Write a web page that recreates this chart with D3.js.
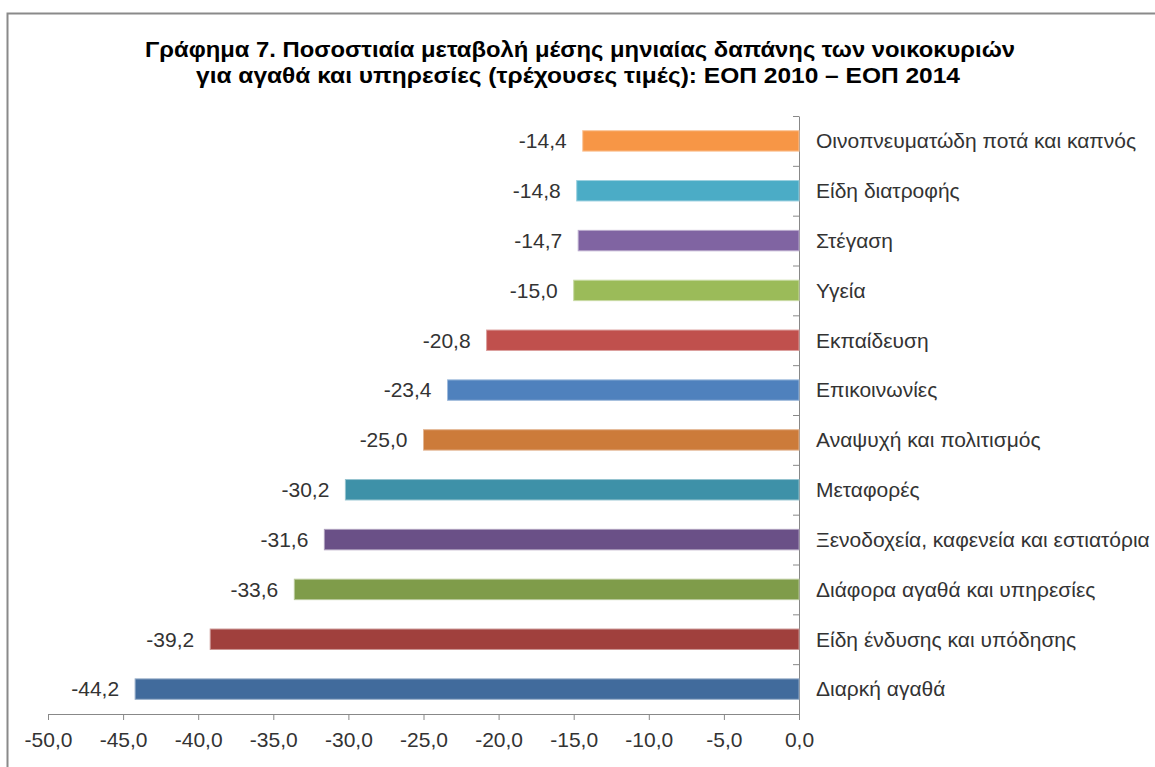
<!DOCTYPE html>
<meta charset="utf-8">
<style>
  body { margin: 0; background: #fff; }
  svg { display: block; }
  .tick text { font-family: "Liberation Sans", Arial, sans-serif; }
</style>
<script src="https://d3js.org/d3.v7.min.js"></script>
<div id="chart"></div>
<script>
  // data, top to bottom as in the chart
  var categories = [
    "Οινοπνευματώδη ποτά και καπνός",
    "Είδη διατροφής",
    "Στέγαση",
    "Υγεία",
    "Εκπαίδευση",
    "Επικοινωνίες",
    "Αναψυχή και πολιτισμός",
    "Μεταφορές",
    "Ξενοδοχεία, καφενεία και εστιατόρια",
    "Διάφορα αγαθά και υπηρεσίες",
    "Είδη ένδυσης και υπόδησης",
    "Διαρκή αγαθά"
  ];
  var values = [-14.4, -14.8, -14.7, -15.0, -20.8, -23.4, -25.0, -30.2, -31.6, -33.6, -39.2, -44.2];
  var colors = ["#F79646", "#4BACC6", "#8064A2", "#9BBB59", "#C0504D", "#4F81BD",
                "#CC7B3A", "#3E91A8", "#6A5087", "#7F9C4A", "#A0403D", "#416B9C"];
  var xTicks = [-50, -45, -40, -35, -30, -25, -20, -15, -10, -5, 0];
  var titleLines = [
    "Γράφημα 7. Ποσοστιαία μεταβολή μέσης μηνιαίας δαπάνης των νοικοκυριών",
    "για αγαθά και υπηρεσίες (τρέχουσες τιμές): ΕΟΠ 2010 – ΕΟΠ 2014"
  ];

  var W = 1155, H = 767;
  var plot = { left: 48, right: 799, top: 116, bottom: 714 };
  var fmt = function (v) { return d3.format(".1f")(v).replace(".", ",").replace("−", "-"); };

  var svg = d3.select("#chart").append("svg")
    .attr("width", W)
    .attr("height", H);

  // chart area frame (runs off the right and bottom edge)
  svg.append("rect")
    .attr("x", 7.5).attr("y", 13.5)
    .attr("width", W + 20).attr("height", H + 20)
    .attr("fill", "#fff")
    .attr("stroke", "#8a8a8a")
    .attr("stroke-width", 2);

  // title
  var titleWidths = [870, 764];
  svg.selectAll(".title")
    .data(titleLines)
    .enter().append("text")
    .attr("class", "title")
    .attr("x", function (d, i) { return i == 0 ? 580 : 578; })
    .attr("y", function (d, i) { return 57 + i * 26; })
    .attr("text-anchor", "middle")
    .attr("textLength", function (d, i) { return titleWidths[i]; })
    .attr("lengthAdjust", "spacingAndGlyphs")
    .style("font-family", "'Liberation Sans Narrow', 'Arial Narrow', 'Liberation Sans', sans-serif")
    .style("font-weight", "bold")
    .style("font-size", "22px")
    .attr("fill", "#000")
    .text(function (d) { return d; });

  var x = d3.scaleLinear()
    .domain([-50, 0])
    .range([plot.left, plot.right]);

  var y = d3.scaleBand()
    .domain(categories)
    .range([plot.top, plot.bottom])
    .paddingInner(0.59)
    .paddingOuter(0.295);

  // x axis
  var xAxis = svg.append("g")
    .attr("transform", "translate(0," + plot.bottom + ")")
    .call(d3.axisBottom(x)
      .tickValues(xTicks)
      .tickSize(6)
      .tickSizeOuter(6)
      .tickFormat(fmt));
  xAxis.select(".domain").attr("stroke", "#888");
  xAxis.selectAll(".tick line").attr("stroke", "#888");
  xAxis.selectAll(".tick text")
    .attr("fill", "#333")
    .attr("y", 18)
    .style("font-size", "21px");

  // y axis: line at zero with ticks on category boundaries
  var yb = d3.scaleLinear()
    .domain([0, categories.length])
    .range([plot.top, plot.bottom]);
  var yAxis = svg.append("g")
    .attr("transform", "translate(" + x(0) + ",0)")
    .call(d3.axisLeft(yb)
      .tickValues(d3.range(categories.length + 1))
      .tickSize(6)
      .tickSizeOuter(0)
      .tickFormat(""));
  yAxis.select(".domain").attr("stroke", "#888");
  yAxis.selectAll(".tick line").attr("stroke", "#888");

  var data = categories.map(function (c, i) {
    return { cat: c, value: values[i], color: colors[i] };
  });

  // bars
  svg.selectAll(".bar")
    .data(data)
    .enter().append("rect")
    .attr("class", "bar")
    .attr("x", function (d) { return x(d.value); })
    .attr("y", function (d) { return y(d.cat); })
    .attr("width", function (d) { return x(0) - x(d.value); })
    .attr("height", y.bandwidth())
    .attr("fill", function (d) { return d.color; })
    .attr("stroke", function (d) { return d3.interpolateRgb(d.color, "#fff")(0.45); })
    .attr("stroke-width", 1);

  // value labels
  svg.selectAll(".val")
    .data(data)
    .enter().append("text")
    .attr("class", "val")
    .attr("x", function (d) { return x(d.value) - 16; })
    .attr("y", function (d) { return y(d.cat) + y.bandwidth() / 2; })
    .attr("dy", "0.35em")
    .attr("text-anchor", "end")
    .attr("fill", "#333")
    .style("font-family", "'Liberation Sans', Arial, sans-serif")
    .style("font-size", "21px")
    .text(function (d) { return fmt(d.value); });

  // category labels right of the zero line
  svg.selectAll(".cat")
    .data(data)
    .enter().append("text")
    .attr("class", "cat")
    .attr("x", x(0) + 17)
    .attr("y", function (d) { return y(d.cat) + y.bandwidth() / 2; })
    .attr("dy", "0.35em")
    .attr("fill", "#333")
    .style("font-family", "'Liberation Sans', Arial, sans-serif")
    .style("font-size", "21px")
    .text(function (d) { return d.cat; });
</script>
